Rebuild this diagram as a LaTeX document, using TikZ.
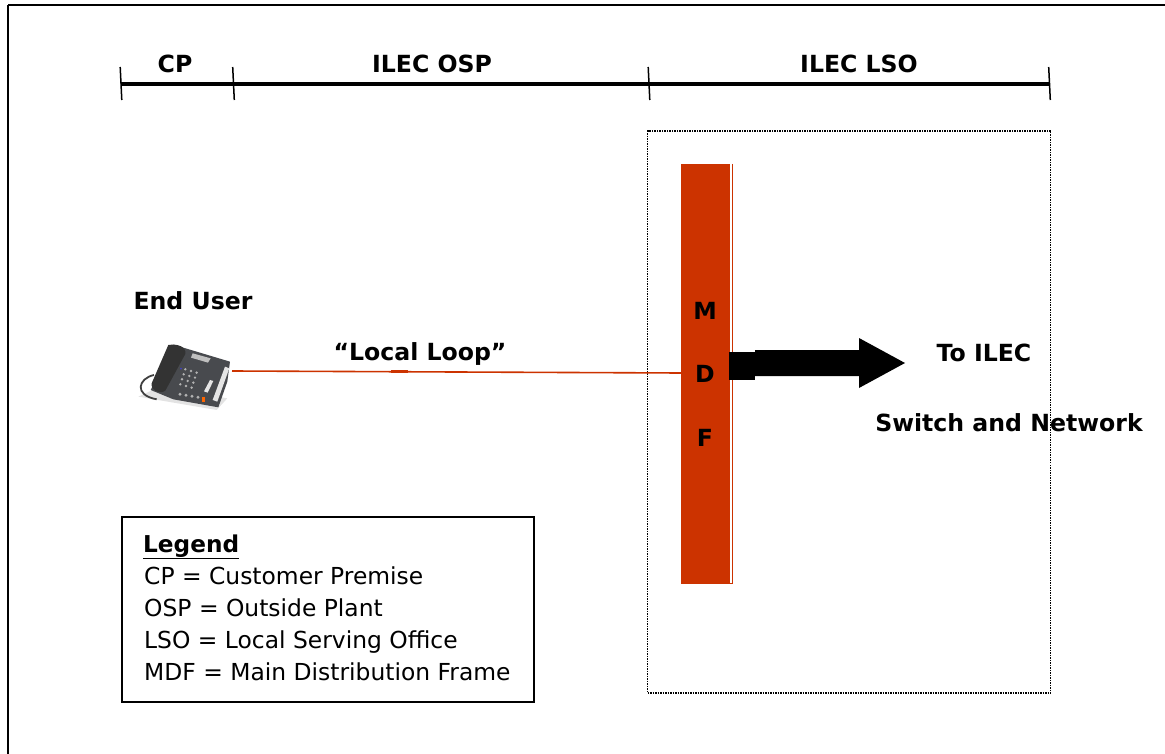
\documentclass[tikz,border=0pt]{standalone}
\usepackage{fontspec}
\setmainfont{DejaVu Sans}
\usetikzlibrary{positioning, arrows.meta, calc}
\definecolor{mdfred}{RGB}{204,51,0}
\definecolor{phonegray}{RGB}{72,74,78}

\begin{document}
\begin{tikzpicture}[
    x=1pt, y=-1pt,
    head/.style={font=\fontsize{23.6}{26}\selectfont\bfseries, inner sep=0pt},
    legendline/.style={font=\fontsize{23.4}{26}\selectfont, inner sep=0pt, anchor=base west},
    tick/.style={line width=1.5pt},
    scale line/.style={line width=4pt}
]
    \useasboundingbox (0,0) rectangle (1165,754);

    % Outer frame
    \draw[line width=1.6pt] (8,5) -- (1165,5);
    \draw[line width=1.6pt] (8,5) -- (8,754);

    % Scale along the top
    \coordinate (t0) at (121,84);
    \coordinate (t1) at (233.5,84);
    \coordinate (t2) at (649,84);
    \coordinate (t3) at (1049.5,84);
    \draw[scale line] (t0) -- (t3);
    \foreach \p in {t0,t1,t2,t3} {
        \draw[tick] ($(\p)+(-0.8,-17)$) -- ($(\p)+(0.8,16)$);
    }
    \node[head] (cp) at (175,64) {CP};
    \node[head] (osp) at (432,64) {ILEC OSP};
    \node[head] (lso) at (859,64) {ILEC LSO};

    % Office box
    \node[draw, densely dotted, line width=1.5pt, minimum width=403pt, minimum height=562pt, inner sep=0pt] (office) at (849,412) {};

    % Frame bar
    \node[fill=mdfred, minimum width=49pt, minimum height=419pt, inner sep=0pt] (mdf) at (705.5,373.5) {};
    \draw[mdfred, line width=1pt] (732.5,164) -- (732.5,583.5) -- (681,583.5);
    \node[head] (m) at (705,311) {M};
    \node[head] (d) at (705,374) {D};
    \node[head] (f) at (705,438) {F};

    % Phone
    \node[head] (user) at (193,301) {End User};
    \begin{scope}[shift={(110,270)}, x=0.3333pt, y=-0.3333pt]
        \fill[gray!22] (85,380) -- (320,420) -- (352,385) -- (150,350) -- cycle;
        \draw[black!75, line width=1.8pt] (132,315) .. controls (85,325) and (70,375) .. (140,388);
        \fill[phonegray] (190,224) -- (360,275) -- (352,335) -- (325,412) -- (190,388) -- (122,360) -- cycle;
        \fill[black!80] (175,225) .. controls (205,220) and (230,232) .. (226,252) -- (166,362) .. controls (148,374) and (122,362) .. (125,340) -- cycle;
        \fill[gray!50] (248,250) -- (302,265) -- (294,278) -- (243,263) -- cycle;
        \fill[black!10] (345,290) -- (358,295) -- (322,395) -- (308,390) -- cycle;
        \fill[black!10] (300,330) -- (310,333) -- (293,368) -- (282,364) -- cycle;
        \foreach \c/\r in {0/0,1/0,2/0,0/1,1/1,2/1,0/2,1/2,2/2,0/3,1/3,2/3} {
            \fill[black!30] ({226+\c*17+\r*-5},{298+\c*5+\r*15}) circle (4);
        }
        \foreach \c in {0,1,2,3} {
            \fill[black!30] ({210+\c*18},{373+\c*3}) circle (5);
        }
        \fill[blue!50!gray] (213,296) circle (3);
        \fill[orange!80!red] (275,380) rectangle (286,396);
    \end{scope}
    \coordinate (phone) at (232,371);

    % Local loop
    \draw[mdfred, line width=1.6pt] (phone) -- (mdf.west |- 0,373);
    \fill[mdfred] (391,370) rectangle (408,373);
    \node[head] (loop) at (420,354) {“Local Loop”};

    % Big arrow
    \fill (729,352) rectangle (755,380);
    \fill (755,350) -- (859,350) -- (859,338) -- (905,363) -- (859,388) -- (859,376) -- (755,376) -- cycle;
    \node[head] (to) at (984,353) {To ILEC};
    \node[head] (sw) at (1009,423) {Switch and Network};

    % Legend
    \node[draw, line width=1.4pt, minimum width=412pt, minimum height=185pt, inner sep=0pt] (legend) at (328,609.5) {};
    \node[legendline, font=\fontsize{23.2}{26}\selectfont\bfseries] (title) at (143,552) {\underline{Legend}};
    \node[legendline] (l1) at (144,584) {CP = Customer Premise};
    \node[legendline] (l2) at (144,616) {OSP = Outside Plant};
    \node[legendline] (l3) at (144,648) {LSO = Local Serving Office};
    \node[legendline] (l4) at (144,680) {MDF = Main Distribution Frame};
\end{tikzpicture}
\end{document}
